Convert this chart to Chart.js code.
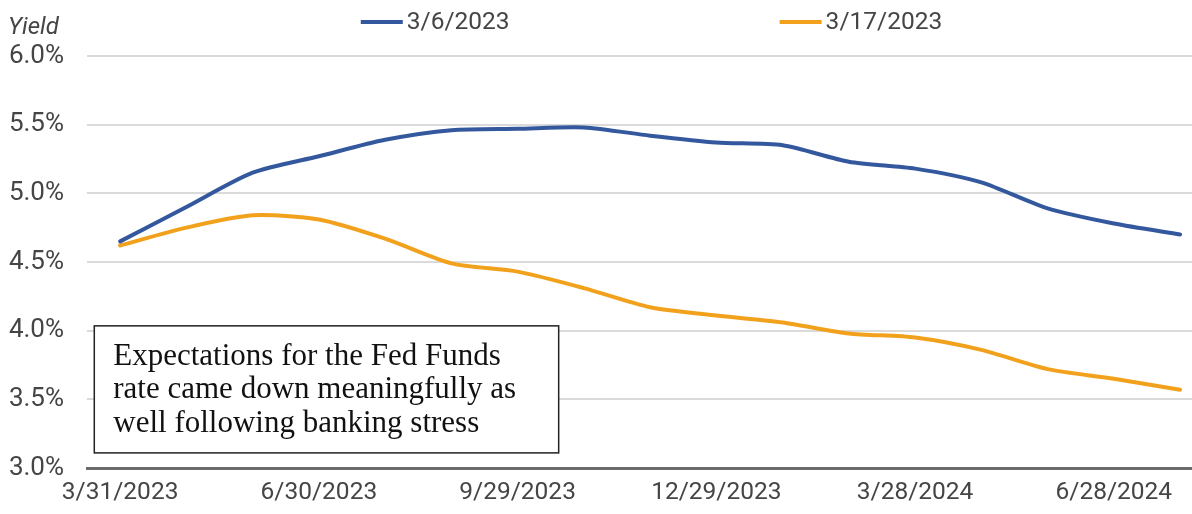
<!DOCTYPE html>
<html>
<head>
<meta charset="utf-8">
<script src="https://cdn.jsdelivr.net/npm/chart.js@4.4.1/dist/chart.umd.min.js"></script>
<style>
  html, body { margin: 0; padding: 0; background: #fff; }
  #wrap { width: 1192px; height: 514px; position: relative; }
</style>
</head>
<body>
<div id="wrap"><canvas id="chart"></canvas></div>
<script>
// monthly points, month-end dates
const dates = [
  '3/31/2023', '4/28/2023', '5/31/2023', '6/30/2023', '7/31/2023', '8/31/2023',
  '9/29/2023', '10/31/2023', '11/30/2023', '12/29/2023', '1/31/2024', '2/29/2024',
  '3/28/2024', '4/30/2024', '5/31/2024', '6/28/2024', '7/31/2024'
];
const tickIndexes = [0, 3, 6, 9, 12, 15];
const mar6 = [4.65, 4.90, 5.15, 5.27, 5.39, 5.46, 5.47, 5.48, 5.42, 5.37, 5.35, 5.23, 5.18, 5.08, 4.89, 4.78, 4.70];
const mar17 = [4.62, 4.75, 4.84, 4.81, 4.67, 4.49, 4.43, 4.31, 4.17, 4.11, 4.06, 3.98, 3.95, 3.86, 3.72, 3.65, 3.57];
const seriesLabels = ['3/6/2023', '3/17/2023'];
const seriesColors = ['#34589e', '#f2a11d'];
const noteLines = [
  'Expectations for the Fed Funds',
  'rate came down meaningfully as',
  'well following banking stress'
];

const sansFont = "Roboto, 'Liberation Sans', sans-serif";
const textGray = '#454545';

function toPoints(values) {
  return values.map((v, i) => ({ x: i, y: v }));
}

// "Yield" caption, legend and the note box
const extras = {
  id: 'extras',
  afterDatasetsDraw(chart) {
    const { ctx, chartArea, scales } = chart;
    ctx.save();

    // axis caption
    ctx.fillStyle = textGray;
    ctx.font = 'italic 24px ' + sansFont;
    ctx.textBaseline = 'alphabetic';
    ctx.textAlign = 'left';
    ctx.fillText('Yield', 8, 34);

    // legend
    ctx.font = '24.5px ' + sansFont;
    const lineLen = 42, gapText = 4, gapItems = 270;
    const widths = seriesLabels.map(t => lineLen + gapText + ctx.measureText(t).width);
    const total = widths[0] + gapItems + widths[1];
    let x = (chartArea.left + chartArea.right) / 2 + 12 - total / 2;
    const ly = 22;
    chart.data.datasets.forEach((ds, i) => {
      ctx.strokeStyle = ds.borderColor;
      ctx.lineWidth = 4;
      ctx.lineCap = 'butt';
      ctx.beginPath();
      ctx.moveTo(x, ly);
      ctx.lineTo(x + lineLen, ly);
      ctx.stroke();
      ctx.fillStyle = textGray;
      ctx.textBaseline = 'middle';
      ctx.fillText(ds.label, x + lineLen + gapText, ly + 1);
      x += widths[i] + gapItems;
    });

    // note box
    const bx0 = scales.x.getPixelForValue(-0.39);
    const bx1 = scales.x.getPixelForValue(6.62);
    const by0 = scales.y.getPixelForValue(4.035);
    const by1 = scales.y.getPixelForValue(3.11);
    ctx.fillStyle = '#fff';
    ctx.fillRect(bx0, by0, bx1 - bx0, by1 - by0);
    ctx.strokeStyle = '#222';
    ctx.lineWidth = 1.5;
    ctx.strokeRect(bx0, by0, bx1 - bx0, by1 - by0);
    ctx.fillStyle = '#111';
    ctx.font = "31px 'Liberation Serif', 'DejaVu Serif', serif";
    ctx.textBaseline = 'alphabetic';
    noteLines.forEach((t, i) => {
      ctx.fillText(t, bx0 + 19, by0 + 39 + i * 33.5);
    });

    ctx.restore();
  }
};

const ctx = document.getElementById('chart').getContext('2d');
new Chart(ctx, {
  type: 'line',
  data: {
    datasets: [
      {
        label: seriesLabels[0],
        data: toPoints(mar6),
        borderColor: seriesColors[0],
        backgroundColor: seriesColors[0],
      },
      {
        label: seriesLabels[1],
        data: toPoints(mar17),
        borderColor: seriesColors[1],
        backgroundColor: seriesColors[1],
      },
    ],
  },
  options: {
    responsive: true,
    maintainAspectRatio: false,
    animation: false,
    layout: { padding: { top: 56, right: 0, bottom: 0, left: 0 } },
    elements: {
      line: { borderWidth: 4, tension: 0.25, borderCapStyle: 'round', borderJoinStyle: 'round', fill: false },
      point: { radius: 0, hoverRadius: 0 },
    },
    plugins: {
      legend: { display: false },
      title: { display: false },
      tooltip: { enabled: false },
    },
    scales: {
      x: {
        type: 'linear',
        min: -0.5,
        max: 16.18,
        afterBuildTicks: (scale) => {
          scale.ticks = tickIndexes.map(v => ({ value: v }));
        },
        afterFit: (scale) => { scale.height = 46; },
        ticks: {
          autoSkip: false,
          maxRotation: 0,
          padding: 10,
          color: textGray,
          font: { family: sansFont, size: 24.5 },
          callback: (v) => dates[v] || '',
        },
        grid: { display: false, drawTicks: false },
        border: { display: true, color: '#6b6b6b', width: 3 },
      },
      y: {
        min: 3,
        max: 6,
        afterFit: (scale) => { scale.width = 87; },
        ticks: {
          stepSize: 0.5,
          padding: 23,
          color: textGray,
          font: { family: sansFont, size: 26 },
          callback: (v) => v.toFixed(1) + '%',
        },
        grid: { color: '#dadada', lineWidth: 2, drawTicks: false },
        border: { display: false },
      },
    },
  },
  plugins: [extras],
});
</script>
</body>
</html>
